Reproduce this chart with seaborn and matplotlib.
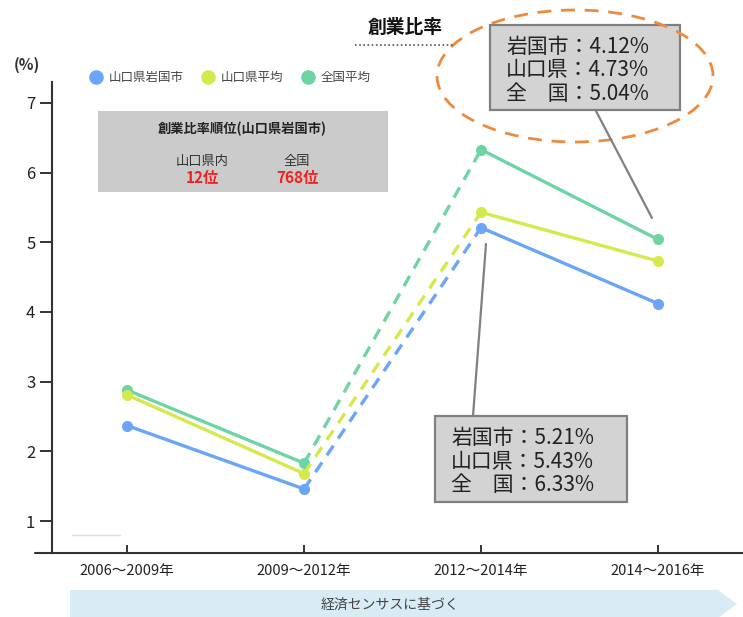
import matplotlib
matplotlib.use('Agg')
import matplotlib.pyplot as plt
import seaborn as sns
from matplotlib.patches import Rectangle, Ellipse, Polygon
from matplotlib.lines import Line2D

# ---- data ----
periods = ['2006～2009年', '2009～2012年', '2012～2014年', '2014～2016年']
series_names = ['山口県岩国市', '山口県平均', '全国平均']
iwakuni = [2.37, 1.46, 5.21, 4.12]
yamaguchi = [2.81, 1.68, 5.43, 4.73]
national = [2.88, 1.83, 6.33, 5.04]
yticks = [1, 2, 3, 4, 5, 6, 7]
colors = ['#6aa5f7', '#d5e84c', '#6fd4a3']
title = '創業比率'
rank_title = '創業比率順位(山口県岩国市)'
rank_labels = ['山口県内', '全国']
rank_values = ['12位', '768位']
box_2014 = ['岩国市：4.12%', '山口県：4.73%', '全　国：5.04%']
box_2012 = ['岩国市：5.21%', '山口県：5.43%', '全　国：6.33%']
source_note = '経済センサスに基づく'

sns.set_theme(style='white')
plt.rcParams['font.family'] = ['Noto Sans CJK JP', 'DejaVu Sans']

W, H = 743, 617
fig = plt.figure(figsize=(W / 100, H / 100), dpi=100)

def fx(px):
    return px / W

def fy(py):
    return 1 - py / H

ax = fig.add_axes([fx(52), fy(553), 1 - fx(52), (553 - 82) / H])

xs = list(range(len(periods)))
all_series = [iwakuni, yamaguchi, national]
order = [0, 2, 1]
for i in order:
    vals = all_series[i]
    c = colors[i]
    sns.lineplot(x=xs[1:3], y=vals[1:3], ax=ax, color=c, linewidth=2.4,
                 linestyle=(0, (3.5, 2.6)))
    sns.lineplot(x=xs[0:2], y=vals[0:2], ax=ax, color=c, linewidth=2.4,
                 marker='o', markersize=8, markeredgewidth=0)
    sns.lineplot(x=xs[2:4], y=vals[2:4], ax=ax, color=c, linewidth=2.4,
                 marker='o', markersize=8, markeredgewidth=0)

ax.set_xlim(-0.424, 3.48)
ax.set_ylim(0.541, 7.30)
ax.set_xticks(xs)
ax.set_xticklabels(periods, fontsize=10.5, color='#222222')
ax.set_yticks(yticks)
ax.set_yticklabels([str(v) for v in yticks], fontsize=12, color='#222222')
ax.tick_params(axis='y', direction='out', length=9, width=1.4, color='#333333', pad=3, left=True)
ax.tick_params(axis='x', direction='in', length=6, width=1.4, color='#333333', pad=8, bottom=True)
for s in ['top', 'right']:
    ax.spines[s].set_visible(False)
for s in ['left', 'bottom']:
    ax.spines[s].set_color('#333333')
    ax.spines[s].set_linewidth(1.5)
ax.set_xlabel('')
ax.set_ylabel('')
ax.patch.set_alpha(0)

# x-axis extension to the left of the y-axis
fig.add_artist(Line2D([fx(35), fx(53)], [fy(553), fy(553)], color='#333333', lw=1.5))
# faint line of the background frame
fig.add_artist(Line2D([fx(72), fx(120)], [fy(535), fy(535)], color='#dddddd', lw=1))

# (%) label
fig.text(fx(27), fy(65), '(%)', fontsize=11, color='#333333', ha='center', va='center',
         weight='bold')

# legend
leg_x = [96, 208, 308]
for i, name in enumerate(series_names):
    fig.add_artist(Line2D([fx(leg_x[i])], [fy(77)], marker='o', markersize=10.5,
                          color=colors[i], markeredgewidth=0, linestyle='none'))
    fig.text(fx(leg_x[i] + 13), fy(77), name, fontsize=9, color='#444444', va='center', ha='left')

# ranking box
fig.add_artist(Rectangle((fx(98), fy(192)), (388 - 98) / W, (192 - 111) / H,
                         transform=fig.transFigure, facecolor='#cbcbcb', edgecolor='none'))
fig.text(fx(242), fy(129), rank_title, fontsize=9.5, color='#222222', ha='center', va='center',
         weight='bold')
rx = [202, 297]
for i in range(2):
    fig.text(fx(rx[i]), fy(161), rank_labels[i], fontsize=9.5, color='#333333', ha='center', va='center')
    fig.text(fx(rx[i]), fy(178), rank_values[i], fontsize=11, color='#ee2222', ha='center', va='center',
             weight='bold')

# title
fig.text(fx(405), fy(27), title, fontsize=13.5, weight='bold', color='#111111', ha='center', va='center')
fig.add_artist(Line2D([fx(355), fx(455)], [fy(45), fy(45)], color='#555555', lw=1.2,
                      linestyle=(0, (1, 1.5))))

# annotation box 2014-2016
fig.add_artist(Rectangle((fx(490), fy(110)), 190 / W, 85 / H, transform=fig.transFigure,
                         facecolor='#d3d3d3', edgecolor='#808080', lw=1.6))
for k, t in enumerate(box_2014):
    fig.text(fx(506), fy(47 + k * 23.5), t, fontsize=15, color='#222222', ha='left', va='center')
fig.add_artist(Line2D([fx(596), fx(652)], [fy(111), fy(218)], color='#808080', lw=1.6))

# annotation box 2012-2014
fig.add_artist(Rectangle((fx(435), fy(502)), 192 / W, 86 / H, transform=fig.transFigure,
                         facecolor='#d3d3d3', edgecolor='#808080', lw=1.6))
for k, t in enumerate(box_2012):
    fig.text(fx(451), fy(438 + k * 23.5), t, fontsize=15, color='#222222', ha='left', va='center')
fig.add_artist(Line2D([fx(486), fx(473)], [fy(244), fy(416)], color='#808080', lw=1.6))

# orange dashed ellipse
fig.add_artist(Ellipse((fx(575), fy(76)), 276 / W, 132 / H, transform=fig.transFigure,
                       facecolor='none', edgecolor='#ef8a3c', lw=2, linestyle=(0, (5, 3.5))))

# bottom banner arrow
banner = Polygon([(fx(70), fy(590)), (fx(718), fy(590)), (fx(737), fy(604)),
                  (fx(718), fy(618)), (fx(70), fy(618))], closed=True,
                 transform=fig.transFigure, facecolor='#d9ecf6', edgecolor='none')
fig.add_artist(banner)
fig.text(fx(390), fy(605), source_note, fontsize=10, color='#444444', ha='center', va='center')

fig.savefig('out.png', dpi=100)
